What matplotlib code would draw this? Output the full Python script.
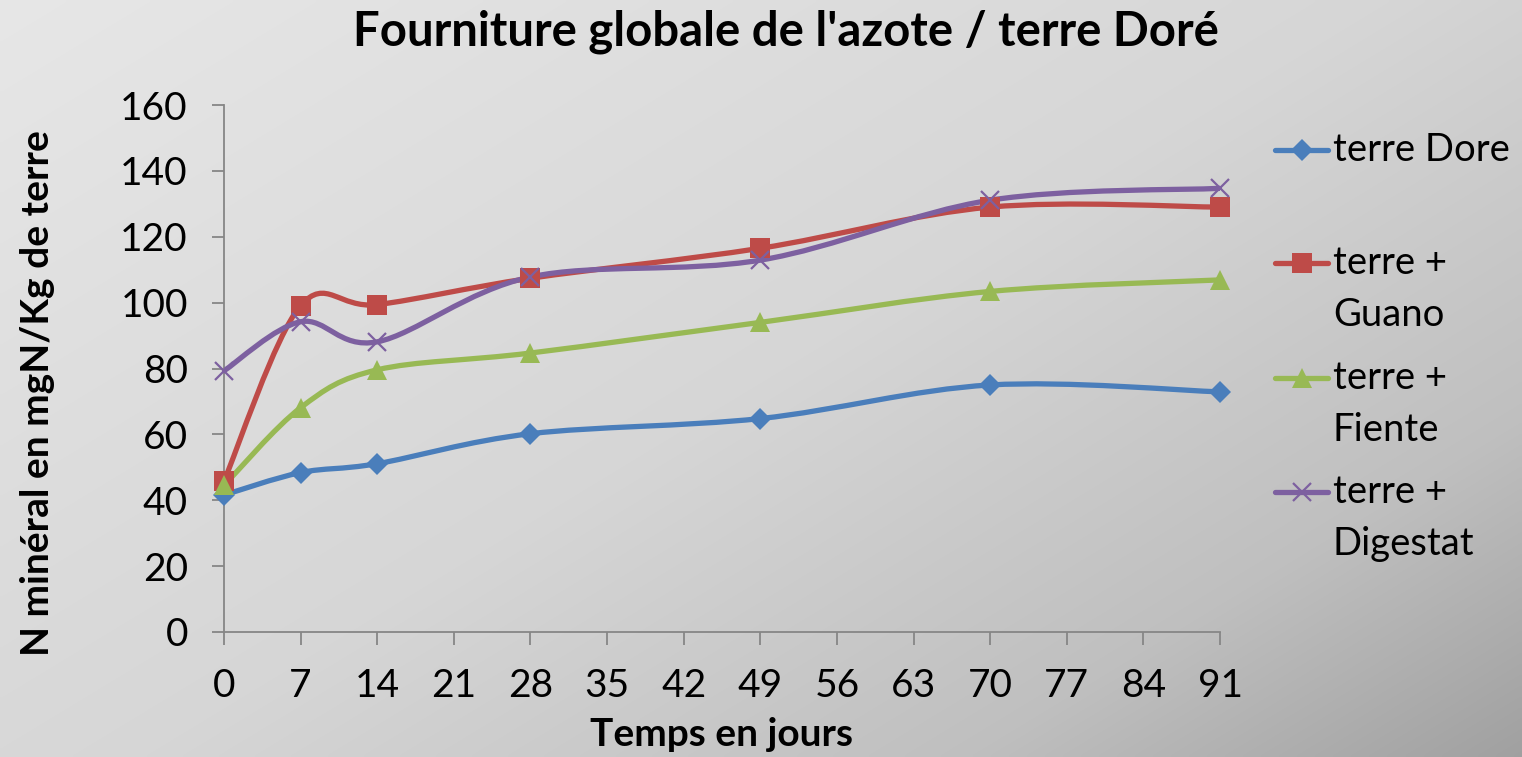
import numpy as np
import matplotlib.pyplot as plt
from matplotlib.path import Path
from matplotlib.patches import PathPatch
from matplotlib.lines import Line2D

plt.rcParams['font.family'] = ['Lato', 'DejaVu Sans']

days = [0, 7, 14, 28, 49, 70, 91]
terre_dore = [41.6, 48.4, 51.1, 60.2, 64.8, 75.0, 72.9]
guano = [45.8, 99.1, 99.4, 107.4, 116.5, 129.0, 129.0]
fiente = [44.5, 68.1, 79.6, 84.7, 94.0, 103.4, 106.9]
digestat = [79.3, 94.2, 88.1, 107.8, 112.9, 131.1, 134.7]

labels = ['terre Dore', 'terre +\nGuano', 'terre +\nFiente', 'terre +\nDigestat']
colors = ['#4a7ebb', '#be4b48', '#98b954', '#7d60a0']
markers = ['D', 's', '^', 'x']
msizes = [11, 14, 14, 13]

W, H = 1522, 757


def smooth_path(x, y):
    # Excel style smoothed line: cubic bezier through every point
    pts = np.column_stack([x, y]).astype(float)
    n = len(pts)
    verts = [pts[0]]
    codes = [Path.MOVETO]
    for i in range(n - 1):
        p0 = pts[i - 1] if i > 0 else pts[i]
        p1 = pts[i]
        p2 = pts[i + 1]
        p3 = pts[i + 2] if i + 2 < n else pts[i + 1]
        c1 = p1 + (p2 - p0) / 6.0
        c2 = p2 - (p3 - p1) / 6.0
        verts += [c1, c2, p2]
        codes += [Path.CURVE4] * 3
    return Path(verts, codes)


fig = plt.figure(figsize=(W / 100, H / 100), dpi=100)

# gradient background
bg = fig.add_axes([0, 0, 1, 1], zorder=-10)
gx, gy = np.meshgrid(np.linspace(0, 1, 400), np.linspace(0, 1, 200))
t = (gx * 0.55 + gy * 0.45)
shade = np.interp(t, [0, 0.5, 0.8, 1.0], [0.905, 0.84, 0.75, 0.63])
bg.imshow(np.dstack([shade] * 3), aspect='auto', extent=[0, 1, 1, 0], interpolation='bilinear')
bg.axis('off')

ax = fig.add_axes([224 / W, 125 / H, 996 / W, 527 / H])
ax.set_facecolor('none')

series = [terre_dore, guano, fiente, digestat]
for vals, c, m, ms in zip(series, colors, markers, msizes):
    ax.add_patch(PathPatch(smooth_path(days, vals), fill=False, edgecolor=c, lw=3.8,
                           capstyle='round', joinstyle='round', zorder=3))
    if m == 'x':
        ax.plot(days, vals, ls='none', marker=m, ms=ms, mew=1.6, color=c, zorder=4, clip_on=False)
    else:
        ax.plot(days, vals, ls='none', marker=m, ms=ms, mew=0, color=c, zorder=4, clip_on=False)

ax.set_xlim(0, 91)
ax.set_ylim(0, 160)
ax.set_xticks(np.arange(0, 92, 7))
ax.set_yticks(np.arange(0, 161, 20))
for s in ['top', 'right']:
    ax.spines[s].set_visible(False)
for s in ['left', 'bottom']:
    ax.spines[s].set_color('#868686')
    ax.spines[s].set_linewidth(1.3)
ax.tick_params(axis='both', colors='#868686', labelcolor='black', width=1.3, length=9,
               labelsize=28)
ax.tick_params(axis='x', pad=17)
ax.tick_params(axis='y', pad=17)

fig.text(786 / W, 1 - 32 / H, "Fourniture globale de l'azote / terre Doré", fontsize=34,
         fontweight='bold', ha='center', va='center')
fig.text(722 / W, 1 - 735 / H, 'Temps en jours', fontsize=28, fontweight='bold',
         ha='center', va='center')
fig.text(38 / W, 1 - 393 / H, 'N minéral en mgN/Kg de terre', fontsize=28, fontweight='bold',
         ha='center', va='center', rotation=90)

# legend drawn by hand so the symbol sits on the first line of each label
leg_y = [150, 263, 378, 492]
line_gap = 52
for lab, c, m, ms, y in zip(labels, colors, markers, msizes, leg_y):
    yf = 1 - y / H
    fig.add_artist(Line2D([1275 / W, 1328 / W], [yf, yf], color=c, lw=3.8,
                          solid_capstyle='round'))
    mew = 1.6 if m == 'x' else 0
    fig.add_artist(Line2D([1301.5 / W], [yf], ls='none', marker=m, ms=ms, mew=mew, color=c))
    for k, part in enumerate(lab.split('\n')):
        fig.text(1333 / W, 1 - (y + k * line_gap) / H, part, fontsize=27.5,
                 ha='left', va='center')

fig.savefig('out.png', dpi=100)
